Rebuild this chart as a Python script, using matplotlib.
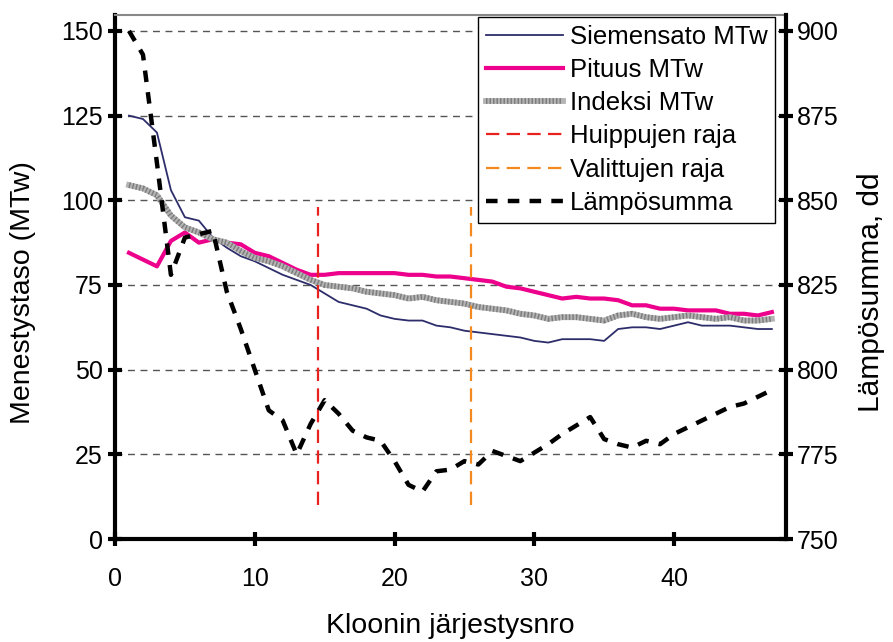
import numpy as np
import matplotlib
matplotlib.use('Agg')
import matplotlib.pyplot as plt

plt.rcParams['font.family'] = ['Liberation Sans', 'DejaVu Sans']

# kloonien järjestysnumerot
klooni = np.arange(1, 48)

# menestystasot (MTw), vasen akseli
siemensato = [125, 124, 120, 103, 95, 94, 89, 86, 83.5, 82, 80, 78, 76.5, 75, 72.5, 70,
              69, 68, 66, 65, 64.5, 64.5, 63, 62.5, 61.5, 61, 60.5, 60, 59.5, 58.5, 58, 59,
              59, 59, 58.5, 62, 62.5, 62.5, 62, 63, 64, 63, 63, 63, 62.5, 62, 62]
pituus = [84.5, 82.5, 80.5, 88, 90.5, 87.5, 88.5, 87.5, 87, 84.5, 83.5, 81.5, 79.5, 78, 78,
          78.5, 78.5, 78.5, 78.5, 78.5, 78, 78, 77.5, 77.5, 77, 76.5, 76, 74.5, 74, 73, 72,
          71, 71.5, 71, 71, 70.5, 69, 69, 68, 68, 67.5, 67.5, 67.5, 66.5, 66.5, 66, 67]
indeksi = [104.5, 103.5, 101.5, 95.5, 92, 90.5, 88.5, 87.5, 85, 83, 82, 80.5, 78.5, 76.5, 75,
           74.5, 74, 73, 72.5, 72, 71, 71.5, 70.5, 70, 69.5, 68.5, 68, 67.5, 66.5, 66, 65,
           65.5, 65.5, 65, 64.5, 66, 66.5, 65.5, 65, 65.5, 66, 65.5, 65, 65.5, 64.5, 64.5, 65]

# lämpösumma (dd), oikea akseli
lampo = [900, 893, 861, 828, 839, 840, 841, 823, 812, 800, 788, 785, 775, 784, 791, 787,
         782, 780, 779, 773, 766, 764, 770, 770.5, 773, 772, 776, 774.5, 773, 775.5, 778,
         781, 783.5, 786, 779.5, 778, 777, 779, 778, 781, 783, 785, 787, 789, 790, 792, 794]

# rajat
huiput_raja = 14.5
valitut_raja = 25.5
raja_ala, raja_yla = 10, 98

fig = plt.figure(figsize=(8.93, 6.42), dpi=100)
ax = fig.add_axes([0.1288, 0.1604, 0.7512, 0.8162])
ax2 = ax.twinx()

ax.yaxis.grid(True, linestyle=(0, (5, 4)), color='#555555', linewidth=1)
ax.set_axisbelow(True)

l_siem, = ax.plot(klooni, siemensato, color='#2d2d6b', lw=1.3, label='Siemensato MTw')
l_pit, = ax.plot(klooni, pituus, color='#ec008c', lw=3, label='Pituus MTw')
# indeksi: harmaa "raidallinen" viiva kahdesta kerroksesta
l_ind_a, = ax.plot(klooni, indeksi, color='#b4b4b4', lw=4.2)
l_ind_b, = ax.plot(klooni, indeksi, color='#7d7d7d', lw=4.2, linestyle=(0, (0.25, 0.35)))
l_hui = ax.vlines(huiput_raja, raja_ala, raja_yla, color='#e8231f', lw=1.6,
                  linestyle=(0, (6, 3.3)), label='Huippujen raja')
l_val = ax.vlines(valitut_raja, raja_ala, raja_yla, color='#f5891f', lw=1.6,
                  linestyle=(0, (6, 3.3)), label='Valittujen raja')
l_lampo, = ax2.plot(klooni, lampo, color='black', lw=3.2, linestyle=(0, (2.6, 2.3)),
                    label='Lämpösumma')

ax.set_xlim(0, 48)
ax.set_ylim(0, 154.7)
ax2.set_ylim(750, 904.7)
ax.set_xticks([0, 10, 20, 30, 40])
ax.set_yticks(np.arange(0, 151, 25))
ax2.set_yticks(np.arange(750, 901, 25))

for s in ['left', 'bottom']:
    ax.spines[s].set_linewidth(3)
ax.spines['top'].set_color('#888888')
ax.spines['top'].set_linewidth(1.5)
ax.spines['right'].set_visible(False)
for s in ['left', 'bottom', 'top']:
    ax2.spines[s].set_visible(False)
ax2.spines['right'].set_linewidth(3)

ax.tick_params(axis='y', direction='inout', length=10, width=3, labelsize=18, pad=4)
ax.tick_params(axis='x', direction='inout', length=10, width=3, labelsize=18, pad=15)
ax2.tick_params(axis='y', direction='inout', length=10, width=3, labelsize=18, pad=3)

ax.set_xlabel('Kloonin järjestysnro', fontsize=20.5, labelpad=16)
ax.set_ylabel('Menestystaso (MTw)', fontsize=20.5)
ax2.set_ylabel('Lämpösumma, dd', fontsize=21.5)
# otsikot vähän keskikohdan alapuolelle kuten alkuperäisessä
ax.yaxis.set_label_coords(-0.118, 0.471)
ax2.yaxis.set_label_coords(1.106, 0.471)

handles = [l_siem, l_pit, (l_ind_a, l_ind_b), l_hui, l_val, l_lampo]
labels = ['Siemensato MTw', 'Pituus MTw', 'Indeksi MTw', 'Huippujen raja',
          'Valittujen raja', 'Lämpösumma']
leg = ax2.legend(handles, labels, loc='upper right', bbox_to_anchor=(0.868, 0.9735),
                 bbox_transform=fig.transFigure, borderaxespad=0, fontsize=18.5,
                 fancybox=False, edgecolor='black', framealpha=1, handlelength=3.0,
                 labelspacing=0.36, handletextpad=0.25, borderpad=0.3)
leg.get_frame().set_linewidth(1)

fig.savefig('out.png', dpi=100)
